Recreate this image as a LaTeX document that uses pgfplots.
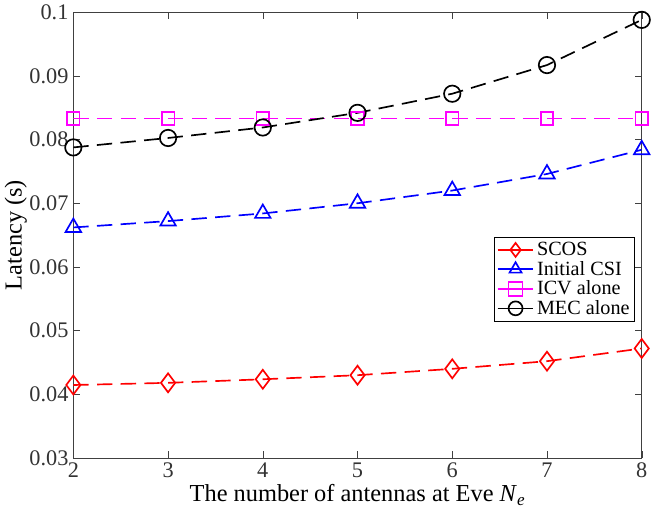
\documentclass[border=0pt]{standalone}
\usepackage{pgfplots}
\pgfplotsset{compat=1.18}
\usepackage{fontspec}
\setmainfont{Liberation Serif}

\begin{document}
\begin{tikzpicture}
\begin{axis}[
  name=main,
  scale only axis,
  width=408pt,
  height=320pt,
  xmin=2, xmax=8,
  ymin=0.03, ymax=0.1,
  xtick={2,3,4,5,6,7,8},
  ytick={0.03,0.04,0.05,0.06,0.07,0.08,0.09,0.1},
  yticklabels={0.03,0.04,0.05,0.06,0.07,0.08,0.09,0.1},
  /pgf/number format/assume math mode=true,
  tick align=inside,
  major tick length=5pt,
  axis line style={black!75},
  tick style={black!75},
  every tick label/.append style={font=\fontsize{16}{18}\selectfont, text=black!80},
  xlabel={The number of antennas at Eve \textit{N}\textsubscript{\textit{e}}},
  ylabel={Latency (s)},
  label style={font=\fontsize{17.5}{19}\selectfont},
  xlabel style={yshift=2pt},
  ylabel style={yshift=-5pt},
  legend style={
    at={(rel axis cs:0.988,0.496)}, anchor=north east,
    font=\fontsize{14.5}{16}\selectfont,
    draw=black, line width=0.6pt,
    inner sep=1.5pt, row sep=-1.5pt,
  },
  legend cell align=left,
  legend image code/.code={
    \draw[mark repeat=2,mark phase=2,solid,mark size=5pt]
      plot coordinates {(0cm,0cm) (0.45cm,0cm) (0.9cm,0cm)};
  },
  every axis plot/.append style={line width=1.2pt, dash pattern=on 11pt off 6pt},
]
\addplot[red, mark=diamond, mark size=6.8pt, mark options={solid}] coordinates {
  (2,0.04146) (3,0.0418) (4,0.04236) (5,0.0430) (6,0.0440) (7,0.0452) (8,0.0472)};
\addlegendentry{SCOS}
\addplot[blue, mark=triangle, mark size=6.4pt, mark options={solid}] coordinates {
  (2,0.0662) (3,0.0672) (4,0.0684) (5,0.0700) (6,0.0720) (7,0.0746) (8,0.0784)};
\addlegendentry{Initial CSI}
\addplot[color={rgb,1:red,1;green,0;blue,1}, mark=square, mark size=4.5pt, mark options={solid}] coordinates {
  (2,0.0833) (3,0.0833) (4,0.0833) (5,0.0833) (6,0.0833) (7,0.0833) (8,0.0833)};
\addlegendentry{ICV alone}
\addplot[black, mark=o, mark size=5.9pt, mark options={solid}] coordinates {
  (2,0.07877) (3,0.08025) (4,0.0819) (5,0.0842) (6,0.0872) (7,0.0917) (8,0.0988)};
\addlegendentry{MEC alone}
\end{axis}
\path (main.east) ++(16pt,0) coordinate (pad);
\path (pad) -- (main.east);
\end{tikzpicture}
\end{document}
